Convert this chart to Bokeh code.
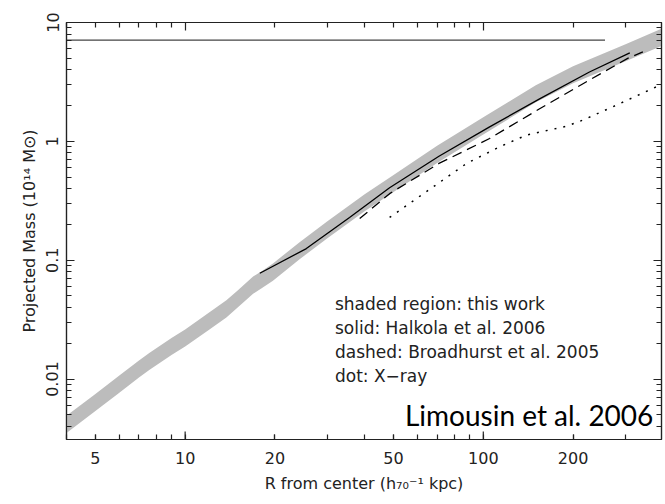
from bokeh.plotting import figure
from bokeh.models import Range1d, FixedTicker, LogAxis, CustomJSTickFormatter, Label
from bokeh.embed import file_html
from bokeh.resources import INLINE

# ---- data ----
band_x = [4, 5, 6, 7, 7.6, 9, 10, 12, 13.75, 15, 16.9, 18, 19.7, 24.2, 30, 40, 50, 70, 100, 150, 200, 300, 400]
band_upper = [0.00490, 0.00750, 0.01064, 0.01435, 0.01667, 0.02218, 0.02612, 0.03606, 0.04592, 0.05559,
              0.07278, 0.08035, 0.09376, 0.1419, 0.2128, 0.3589, 0.5212, 0.9162, 1.592, 2.965, 4.285, 6.561, 8.954]
band_lower = [0.00352, 0.00538, 0.00764, 0.01030, 0.01197, 0.01592, 0.01875, 0.02588, 0.03296, 0.03990,
              0.05224, 0.05768, 0.06730, 0.1019, 0.1528, 0.2576, 0.3741, 0.6577, 1.143, 2.128, 3.076, 4.710, 6.427]

solid_x = [17.8, 25.5, 35.6, 48.5, 71, 105, 155, 227, 310]
solid_y = [0.0776, 0.1253, 0.229, 0.407, 0.750, 1.324, 2.286, 3.83, 5.56]

dashed_x = [38.5, 48.5, 71, 105, 155, 227, 305, 343]
dashed_y = [0.224, 0.363, 0.652, 1.057, 1.89, 3.28, 4.99, 5.67]

dotted_x = [48.5, 67.9, 87.9, 113.5, 139.6, 190, 216, 280, 391]
dotted_y = [0.229, 0.414, 0.652, 0.90, 1.13, 1.34, 1.51, 2.02, 2.97]

hline_x = [4, 256]
hline_y = [7.1, 7.1]

x_labeled_ticks = [5, 10, 20, 50, 100, 200]
x_decade_ticks = [10, 100]
x_minor = [4, 5, 6, 7, 8, 9, 20, 30, 40, 50, 60, 70, 80, 90, 200, 300]
y_major = [0.01, 0.1, 1, 10]
y_minor = [0.004, 0.005, 0.006, 0.007, 0.008, 0.009,
           0.02, 0.03, 0.04, 0.05, 0.06, 0.07, 0.08, 0.09,
           0.2, 0.3, 0.4, 0.5, 0.6, 0.7, 0.8, 0.9,
           2, 3, 4, 5, 6, 7, 8, 9]

legend_lines = ["shaded region: this work", "solid: Halkola et al. 2006",
                "dashed: Broadhurst et al. 2005", "dot: X\u2212ray"]
legend_x = 31.8
legend_y = [0.0425, 0.0267, 0.01675, 0.01052]
credit_text = "Limousin et al. 2006"
credit_x, credit_y = 54.6, 0.00494

XMIN, XMAX = 4, 396
YMIN, YMAX = 0.0031, 10

AX = "#222222"
FONT = "DejaVu Sans"

p = figure(width=665, height=504, x_axis_type="log", y_axis_type="log",
           x_range=Range1d(XMIN, XMAX), y_range=Range1d(YMIN, YMAX),
           output_backend="svg", toolbar_location=None,
           min_border_left=66, min_border_right=4, min_border_top=22, min_border_bottom=65)
p.xgrid.visible = False
p.ygrid.visible = False
p.outline_line_color = AX
p.outline_line_width = 1.2
p.background_fill_color = "white"
p.border_fill_color = "white"

fmt = CustomJSTickFormatter(code="return tick.toString();")
blank = CustomJSTickFormatter(code="return ' ';")

def style(ax, major_len, minor_len):
    ax.axis_line_color = AX
    ax.axis_line_width = 1.2
    ax.major_tick_line_color = AX
    ax.minor_tick_line_color = AX
    ax.major_tick_line_width = 1.2
    ax.minor_tick_line_width = 1.2
    ax.major_tick_in = major_len
    ax.major_tick_out = 0
    ax.minor_tick_in = minor_len
    ax.minor_tick_out = 0
    ax.major_label_text_font = FONT
    ax.major_label_text_font_size = "16px"
    ax.major_label_text_color = AX
    ax.axis_label_text_font = FONT
    ax.axis_label_text_font_size = "16px"
    ax.axis_label_text_font_style = "normal"
    ax.axis_label_text_color = AX

# bottom axis
xb = p.xaxis[0]
xb.ticker = FixedTicker(ticks=x_labeled_ticks, minor_ticks=x_minor)
xb.formatter = fmt
style(xb, 5, 5)
xb.major_label_standoff = 12
xb.axis_label = "R from center (h\u2087\u2080\u207b\u00b9 kpc)"
xb.axis_label_standoff = 7

# left axis
yl = p.yaxis[0]
yl.ticker = FixedTicker(ticks=y_major, minor_ticks=y_minor)
yl.formatter = fmt
style(yl, 8, 5)
yl.major_label_orientation = "vertical"
yl.major_label_standoff = 8
yl.axis_label = "Projected Mass (10\u00b9\u2074 M\u2299)"
yl.axis_label_standoff = 5

# top axis
xt = LogAxis(ticker=FixedTicker(ticks=x_decade_ticks, minor_ticks=x_minor), formatter=blank)
style(xt, 8, 5)
xt.major_label_text_font_size = "2px"
xt.major_label_standoff = 0
p.add_layout(xt, "above")

# right axis
yr = LogAxis(ticker=FixedTicker(ticks=y_major, minor_ticks=y_minor), formatter=blank)
style(yr, 8, 5)
yr.major_label_text_font_size = "2px"
yr.major_label_standoff = 0
p.add_layout(yr, "right")

# long ticks at decades on the bottom axis
p.scatter(x=x_decade_ticks, y=[YMIN] * len(x_decade_ticks), marker="dash", angle=1.5708,
          size=16, line_color=AX, line_width=1.2)

# data
p.varea(x=band_x, y1=band_lower, y2=band_upper, fill_color="#bcbcbc", fill_alpha=1.0)
p.line(hline_x, hline_y, line_color="#444444", line_width=1.3)
p.line(solid_x, solid_y, line_color="black", line_width=1.3)
p.line(dashed_x, dashed_y, line_color="black", line_width=1.3, line_dash="10 6")
p.line(dotted_x, dotted_y, line_color="black", line_width=1.5, line_dash="2 7")

for t, yv in zip(legend_lines, legend_y):
    p.add_layout(Label(x=legend_x, y=yv, text=t, text_font="DejaVu Sans",
                       text_font_size="17px", text_color=AX, text_baseline="middle",
                       text_align="left"))

p.add_layout(Label(x=credit_x, y=credit_y, text=credit_text, text_font="Lato",
                   text_font_size="28px", text_color="black", text_baseline="middle",
                   text_align="left"))

open("out.html", "w").write(file_html(p, INLINE))
